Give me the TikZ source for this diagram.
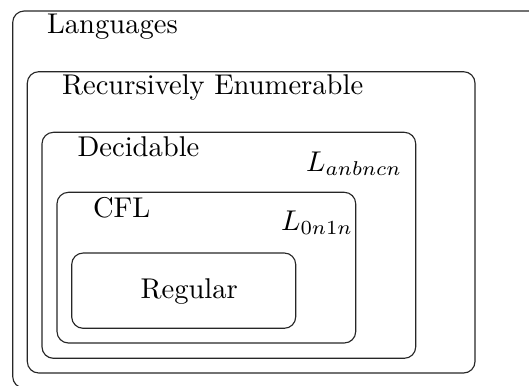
\documentclass[tikz,border=0pt]{standalone}
\usetikzlibrary{fit}
\begin{document}
\begin{tikzpicture}[x=0.35pt,y=-0.35pt,
  box/.style={draw=black!85, line width=0.4pt, rounded corners=4pt, inner sep=0pt},
  lbl/.style={anchor=base west, inner sep=0pt}]
\clip (0,0) rectangle (529,385);
\useasboundingbox (0,0) rectangle (529,385);
\node[box, fit={(12.7,11) (545,388)}] (lang) {};
\node[box, fit={(27.3,71.7) (475,373)}] (re) {};
\node[box, fit={(42,132.3) (415.7,358.3)}] (dec) {};
\node[box, fit={(57,192.3) (355.7,343)}] (cfl) {};
\node[box, fit={(71.7,253) (295.7,328.3)}] (reg) {};
\node[lbl] (tlang) at (46.5,33.3) {Languages};
\node[lbl] (tre) at (61.5,94) {Recursively Enumerable};
\node[lbl] (tdec) at (77,156.7) {Decidable};
\node[lbl] (tanbncn) at (305.5,171.7) {$L_{anbncn}$};
\node[lbl] (tcfl) at (92.5,217.3) {CFL};
\node[lbl] (t0n1n) at (280.5,230.7) {$L_{0n1n}$};
\node[lbl] (treg) at (140,298.3) {Regular};
\end{tikzpicture}
\end{document}
